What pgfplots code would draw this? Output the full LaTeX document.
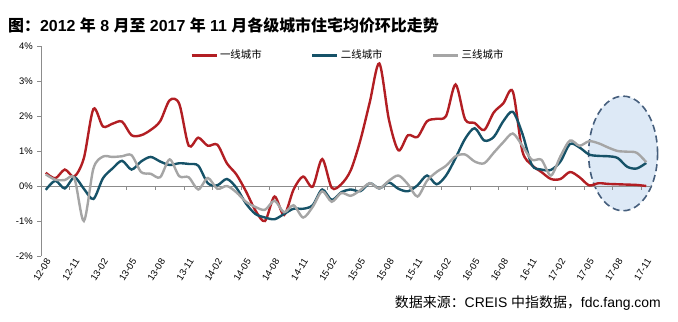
\documentclass[border=0pt]{standalone}
\usepackage{fontspec}
\setmainfont{Liberation Sans}
\newfontfamily\cjk{Noto Sans CJK SC}
\newfontfamily\cjkb{Noto Sans CJK SC Bold}
\usepackage{pgfplots}
\pgfplotsset{compat=1.18}
\usepackage{pgfplotstable}

\definecolor{cred}{RGB}{178,30,35}
\definecolor{cteal}{RGB}{22,82,104}
\definecolor{cgray}{RGB}{165,165,165}
\definecolor{efill}{RGB}{221,233,246}
\definecolor{edge}{RGB}{70,95,125}
\definecolor{axgray}{RGB}{140,140,140}

\pgfplotstableread{
i r t g
0 0.38 -0.11 0.33
1 0.22 0.15 0.18
2 0.47 -0.07 0.17
3 0.27 0.25 0.22
4 0.80 -0.08 -1.00
5 2.20 -0.37 0.50
6 1.70 0.22 0.84
7 1.78 0.50 0.83
8 1.84 0.72 0.85
9 1.45 0.47 0.88
10 1.45 0.70 0.40
11 1.60 0.83 0.35
12 1.85 0.70 0.25
13 2.45 0.60 0.76
14 2.35 0.65 0.28
15 1.15 0.63 0.25
16 1.38 0.58 -0.10
17 1.15 0.08 0.23
18 1.18 0.02 -0.08
19 0.65 0.20 0.00
20 0.33 -0.05 -0.18
21 -0.15 -0.50 -0.45
22 -0.70 -0.80 -0.60
23 -1.00 -0.90 -0.68
24 -0.30 -0.95 -0.42
25 -0.83 -0.80 -0.75
26 -0.10 -0.65 -0.55
27 0.27 -0.65 -0.90
28 -0.02 -0.55 -0.60
29 0.77 -0.10 -0.15
30 -0.05 -0.40 -0.45
31 0.05 -0.18 -0.20
32 0.45 -0.10 -0.28
33 1.30 -0.15 -0.12
34 2.40 0.08 0.08
35 3.50 -0.07 -0.07
36 1.90 0.10 0.15
37 1.02 -0.08 0.30
38 1.45 -0.15 0.05
39 1.40 0.02 -0.30
40 1.85 0.30 0.15
41 1.92 0.05 0.40
42 2.00 0.30 0.58
43 2.90 0.80 0.85
44 1.90 1.35 0.90
45 1.80 1.65 0.70
46 1.60 1.30 0.65
47 2.10 1.40 0.95
48 2.36 1.85 1.25
49 2.70 2.12 1.50
50 1.00 1.50 1.15
51 0.60 0.60 0.75
52 0.40 0.47 0.75
53 0.20 0.46 0.30
54 0.20 0.70 0.85
55 0.40 1.20 1.30
56 0.25 1.10 1.15
57 0.02 0.90 1.28
58 0.08 0.86 1.22
59 0.06 0.85 1.10
60 0.05 0.80 1.00
61 0.04 0.55 0.98
62 0.03 0.50 0.95
63 0.00 0.66 0.68
}\data

\begin{document}
\begin{tikzpicture}
\useasboundingbox (-41bp,-66bp) rectangle (637bp,256bp);
\begin{axis}[
  at={(0,0)}, anchor=south west,
  scale only axis, width=610bp, height=210bp,
  xmin=-0.5, xmax=63.5, ymin=-2, ymax=4,
  axis lines*=left,
  x axis line style={draw=none},
  y axis line style={color=axgray, line width=0.8bp},
  xtick={0,3,...,63},
  xticklabels={12-08,12-11,13-02,13-05,13-08,13-11,14-02,14-05,14-08,14-11,15-02,15-05,15-08,15-11,16-02,16-05,16-08,16-11,17-02,17-05,17-08,17-11},
  xtick style={draw=none},
  xticklabel style={rotate=58, anchor=east, font=\fontsize{9.5}{10}\selectfont, inner sep=1bp, xshift=3bp, yshift=-2bp},
  ytick={-2,-1,0,1,2,3,4},
  yticklabels={-2\%,-1\%,0\%,1\%,2\%,3\%,4\%},
  ytick style={color=axgray, line width=0.8bp},
  tick align=outside, major tick length=4bp,
  yticklabel style={font=\fontsize{9.5}{10}\selectfont, inner sep=1bp, xshift=-3bp},
  clip=false,
  legend style={at={(0.244,0.957)}, anchor=west, draw=none, fill=none,
    font=\cjk\fontsize{10.5}{11}\selectfont, inner sep=0pt,
    /tikz/every even column/.append style={column sep=47bp}},
  legend columns=3,
  legend image code/.code={\draw[#1, line width=3bp] (0bp,0bp) -- (25bp,0bp);},
  every axis plot/.append style={line width=2.4bp, smooth, tension=0.5},
]
\draw[edge, fill=efill, dash pattern=on 7bp off 4bp, line width=1.6bp] (axis cs:60.57,0.93) ellipse [x radius=34.5bp, y radius=57.3bp];
\draw[axgray, line width=0.8bp] (axis cs:-0.5,0) -- (axis cs:63.5,0);
\pgfplotsinvokeforeach{2.5,5.5,...,62.5}{\draw[axgray, line width=0.8bp] (axis cs:#1,0) -- ([yshift=-4bp]axis cs:#1,0);}
\addplot[cred] table[x=i, y=r] {\data};
\addlegendentry{一线城市}
\addplot[cteal] table[x=i, y=t] {\data};
\addlegendentry{二线城市}
\addplot[cgray] table[x=i, y=g] {\data};
\addlegendentry{三线城市}
\end{axis}
\node[anchor=west, inner sep=0pt, font=\fontsize{16}{17}\selectfont\bfseries] at (-33bp,231bp)
  {{\cjkb 图：}2012 {\cjkb 年} 8 {\cjkb 月至} 2017 {\cjkb 年} 11 {\cjkb 月各级城市住宅均价环比走势}};
\node[anchor=east, inner sep=0pt, font=\fontsize{14}{15}\selectfont] at (620bp,-47bp)
  {{\cjk 数据来源：}CREIS {\cjk 中指数据，}fdc.fang.com};
\end{tikzpicture}
\end{document}
